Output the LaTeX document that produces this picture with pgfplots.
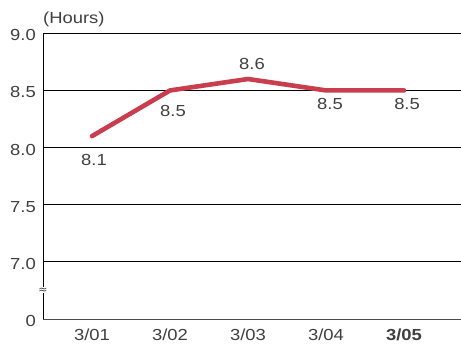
\documentclass[border=0pt]{standalone}
\usepackage{pgfplots}
\pgfplotsset{compat=1.18}
\usepackage{pgfplotstable}
\usepackage{fontspec}
\setmainfont{Liberation Sans}[FakeStretch=1.15]
\newfontfamily\symfont{DejaVu Sans}
\definecolor{sleepred}{RGB}{200,62,78}
\definecolor{txt}{RGB}{64,64,64}

% hours of sleep per day; dx/dy place each value label
\pgfplotstableread{
x y dx dy
0 8.1 2 -24
1 8.5 3 -20.5
2 8.6 4 15
3 8.5 4 -13.5
4 8.5 3 -13.5
}\sleepdata

\begin{document}
\begin{tikzpicture}
\begin{axis}[
  at={(43pt,25pt)}, anchor=south west,
  scale only axis, width=418pt, height=285.7pt,
  xmin=-0.628, xmax=4.73,
  ymin=6.5, ymax=9.0,
  axis x line*=bottom, axis y line*=left,
  axis line style={-, line width=0.8pt},
  x axis line style={black!70},
  y axis line style={black},
  xtick={0,1,2,3,4},
  xticklabels={3/01,3/02,3/03,3/04,\textbf{3/05}},
  ytick={6.5,7,7.5,8,8.5,9},
  yticklabels={0,7.0,7.5,8.0,8.5,9.0},
  major tick length=0pt,
  ymajorgrids,
  major grid style={black, line width=0.8pt},
  tick label style={font=\fontsize{16}{19}\selectfont, text=txt},
  xticklabel style={anchor=base, inner sep=0pt, yshift=-21.7pt},
  yticklabel style={anchor=east, inner sep=0pt, xshift=-7pt, yshift=-2pt},
  /pgf/number format/assume math mode=true,
  clip=false,
]
\addplot[sleepred, line width=4.6pt, line cap=round, line join=round, mark=none]
  table[x=x, y=y] {\sleepdata};
\addplot[draw=none, mark=none,
  point meta=y,
  visualization depends on={\thisrow{dx}\as\dx},
  visualization depends on={\thisrow{dy}\as\dy},
  nodes near coords={\pgfmathprintnumber[fixed,fixed zerofill,precision=1]{\pgfplotspointmeta}},
  nodes near coords style={anchor=center, inner sep=0pt, xshift=\dx pt, yshift=\dy pt,
    font=\fontsize{16}{19}\selectfont, text=txt},
] table[x=x, y=y] {\sleepdata};
% axis break sign on the value axis
\fill[white] (rel axis cs:0,0.1) ++(-2pt,-3pt) rectangle ++(4pt,6pt);
\node[inner sep=0pt, font=\symfont\fontsize{11}{12}\selectfont, text=txt] at (rel axis cs:0,0.1) {≈};
\node[anchor=base west, inner sep=0pt, font=\fontsize{16}{19}\selectfont, text=txt]
  at (rel axis cs:0,1) [yshift=10pt] {(Hours)};
\end{axis}
\pgfresetboundingbox
\path[use as bounding box] (0,0) rectangle (461pt,344pt);
\end{tikzpicture}
\end{document}
